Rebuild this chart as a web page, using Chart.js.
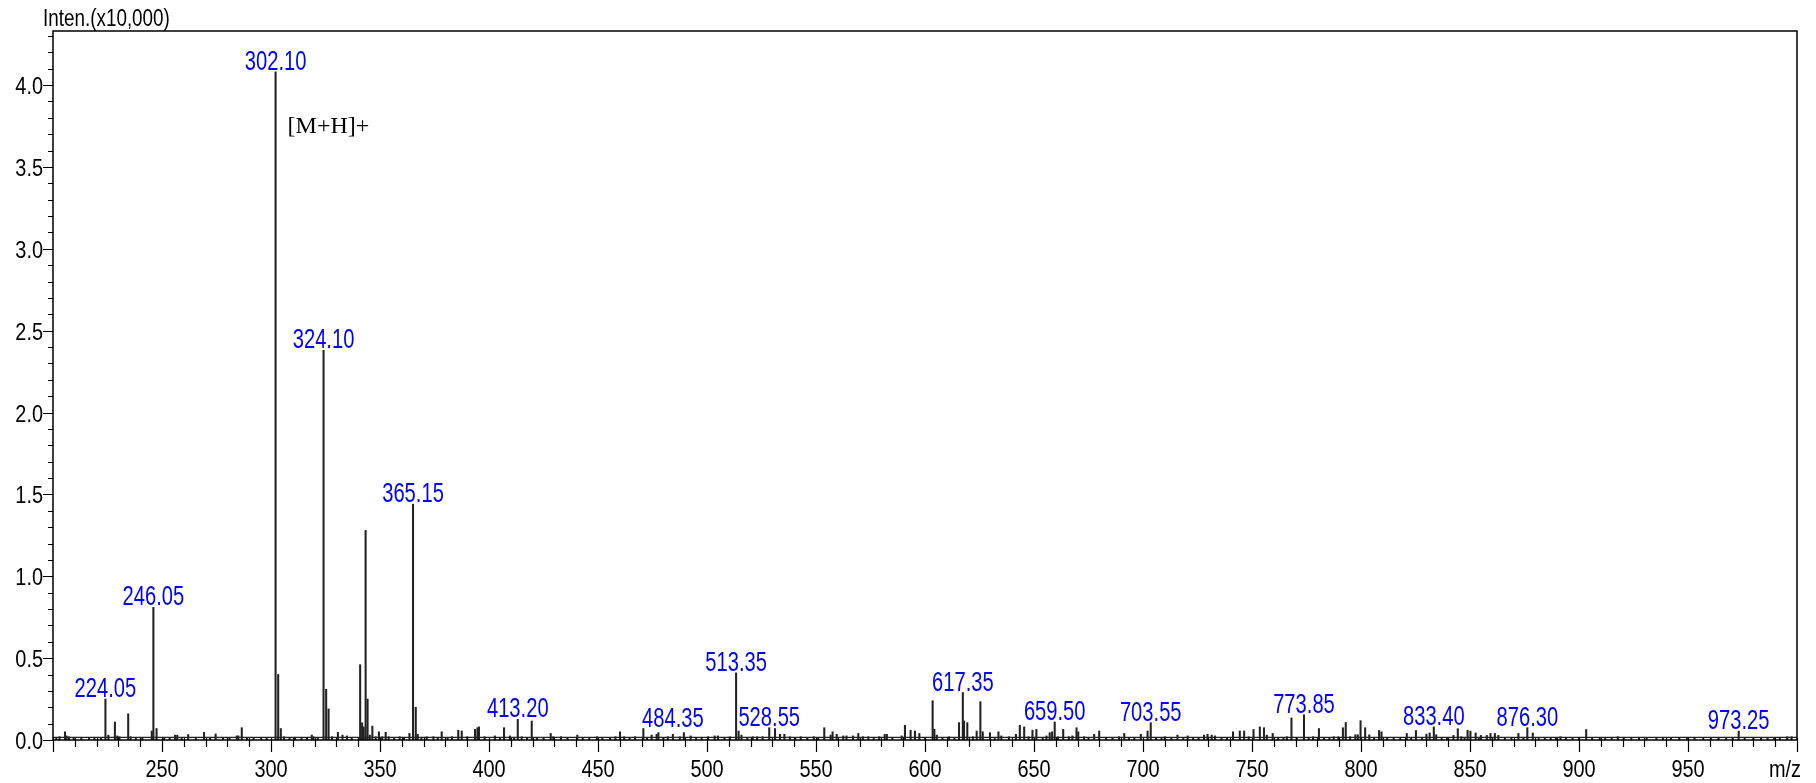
<!DOCTYPE html>
<html>
<head>
<meta charset="utf-8">
<title>Mass spectrum</title>
<script src="https://cdn.jsdelivr.net/npm/chart.js@4.4.1/dist/chart.umd.min.js"></script>
<style>
  html, body { margin: 0; padding: 0; background: #fff; }
  canvas { display: block; }
</style>
</head>
<body>
<canvas id="spec" width="1816" height="783"></canvas>
<script>
// ===== Spectrum data (m/z, intensity x10,000) =====
const peakMz = [
  201.5, 203.0, 205.5, 206.2, 207.3, 209.5, 213.0, 216.5, 219.0, 222.0,
  224.05, 225.4, 228.4, 229.5, 230.5, 234.5, 235.6, 238.0, 241.0, 245.3,
  246.05, 247.5, 251.0, 253.5, 256.0, 257.0, 259.0, 262.0, 265.5, 269.3,
  272.0, 274.6, 278.0, 281.0, 284.3, 285.0, 286.6, 289.0, 292.0, 295.5,
  298.0, 302.10, 303.3, 304.5, 306.0, 308.5, 311.0, 314.0, 316.5, 318.7,
  319.4, 321.5, 324.10, 325.3, 326.4, 328.0, 330.7, 332.8, 334.8, 337.0,
  340.9, 341.8, 342.5, 343.4, 344.3, 345.3, 346.5, 348.0, 349.5, 351.0,
  352.6, 354.0, 356.5, 359.0, 361.0, 363.5, 365.15, 366.4, 367.3, 369.0,
  371.4, 374.5, 376.5, 378.3, 381.0, 383.0, 385.9, 387.5, 390.0, 393.6,
  394.7, 395.4, 398.0, 402.7, 405.0, 406.9, 409.6, 411.5, 413.20, 415.0,
  417.5, 419.6, 422.0, 425.0, 428.3, 429.5, 433.0, 436.0, 440.5, 443.0,
  446.0, 449.5, 452.0, 455.5, 458.0, 460.1, 462.0, 464.5, 467.0, 470.8,
  472.5, 474.6, 476.9, 477.7, 480.0, 482.0, 484.35, 487.5, 489.4, 492.5,
  495.0, 497.5, 500.5, 503.5, 505.0, 508.0, 510.5, 513.35, 514.5, 515.8,
  518.5, 521.0, 523.0, 525.5, 528.55, 531.2, 533.5, 535.5, 538.0, 540.5,
  543.0, 546.0, 549.0, 551.0, 553.8, 556.7, 557.6, 559.5, 562.5, 564.0,
  567.0, 569.4, 571.5, 574.0, 576.5, 579.0, 581.5, 582.5, 585.0, 589.3,
  590.8, 593.4, 595.4, 597.4, 600.0, 603.5, 604.3, 605.4, 608.0, 611.0,
  613.5, 615.6, 617.35, 617.9, 619.4, 622.0, 623.7, 625.4, 626.5, 629.8,
  632.0, 633.7, 635.0, 638.5, 641.7, 643.5, 645.5, 647.5, 649.3, 651.1,
  654.0, 655.7, 657.2, 658.3, 659.50, 661.0, 663.4, 666.0, 667.6, 669.5,
  670.3, 673.0, 675.0, 677.6, 679.9, 683.0, 686.0, 689.0, 691.4, 693.5,
  696.0, 699.0, 702.1, 703.55, 706.0, 708.5, 710.0, 713.0, 715.8, 718.5,
  720.5, 723.0, 725.5, 728.0, 729.6, 731.5, 733.0, 736.0, 738.5, 741.3,
  744.4, 746.4, 748.5, 750.7, 753.6, 755.5, 756.8, 759.5, 762.0, 764.4,
  766.0, 768.1, 770.5, 773.85, 776.0, 778.0, 780.7, 783.0, 785.5, 787.5,
  789.6, 791.7, 793.0, 795.0, 797.4, 798.5, 799.8, 801.9, 803.8, 806.0,
  808.3, 809.4, 812.0, 815.0, 818.0, 821.0, 823.0, 825.2, 828.0, 830.0,
  831.5, 833.40, 834.5, 837.0, 839.5, 842.4, 844.4, 846.0, 847.5, 848.9,
  850.2, 852.6, 854.0, 855.0, 857.7, 859.4, 861.4, 863.0, 866.0, 869.0,
  872.2, 874.5, 876.30, 878.8, 881.5, 884.3, 887.0, 889.4, 891.5, 894.0,
  897.0, 900.0, 903.3, 906.0, 909.5, 912.0, 915.0, 917.8, 920.5, 924.0,
  927.5, 931.0, 935.5, 938.5, 942.2, 946.0, 949.5, 953.0, 957.0, 960.5,
  964.0, 967.5, 970.5, 973.25, 976.0, 980.0, 983.5, 986.5, 989.5, 992.1,
  995.5, 997.5
];
const peakInt = [
  0.015, 0.02, 0.05, 0.025, 0.02, 0.01, 0.012, 0.01, 0.012, 0.015,
  0.25, 0.03, 0.11, 0.025, 0.02, 0.16, 0.02, 0.012, 0.015, 0.055,
  0.81, 0.07, 0.012, 0.015, 0.03, 0.03, 0.012, 0.033, 0.015, 0.047,
  0.012, 0.037, 0.015, 0.012, 0.025, 0.025, 0.075, 0.015, 0.012, 0.015,
  0.012, 4.08, 0.40, 0.07, 0.02, 0.01, 0.015, 0.012, 0.015, 0.03,
  0.02, 0.015, 2.38, 0.31, 0.19, 0.02, 0.047, 0.03, 0.025, 0.015,
  0.46, 0.105, 0.08, 1.28, 0.25, 0.03, 0.085, 0.02, 0.05, 0.02,
  0.047, 0.02, 0.015, 0.02, 0.015, 0.04, 1.44, 0.20, 0.035, 0.015,
  0.02, 0.02, 0.015, 0.05, 0.015, 0.02, 0.06, 0.055, 0.02, 0.065,
  0.075, 0.08, 0.02, 0.025, 0.015, 0.075, 0.025, 0.015, 0.126, 0.02,
  0.015, 0.116, 0.015, 0.015, 0.04, 0.02, 0.02, 0.015, 0.03, 0.015,
  0.015, 0.02, 0.015, 0.015, 0.02, 0.05, 0.02, 0.015, 0.02, 0.07,
  0.015, 0.03, 0.035, 0.045, 0.015, 0.02, 0.035, 0.02, 0.045, 0.025,
  0.015, 0.015, 0.02, 0.025, 0.025, 0.015, 0.02, 0.41, 0.055, 0.03,
  0.015, 0.02, 0.02, 0.02, 0.075, 0.07, 0.035, 0.035, 0.02, 0.015,
  0.02, 0.015, 0.02, 0.015, 0.075, 0.03, 0.05, 0.035, 0.025, 0.025,
  0.025, 0.04, 0.02, 0.02, 0.015, 0.02, 0.035, 0.035, 0.015, 0.025,
  0.09, 0.06, 0.055, 0.04, 0.015, 0.24, 0.065, 0.03, 0.015, 0.02,
  0.015, 0.106, 0.29, 0.116, 0.106, 0.02, 0.055, 0.234, 0.05, 0.045,
  0.015, 0.05, 0.025, 0.02, 0.035, 0.09, 0.08, 0.02, 0.06, 0.065,
  0.015, 0.025, 0.045, 0.05, 0.11, 0.02, 0.065, 0.02, 0.025, 0.075,
  0.05, 0.02, 0.015, 0.035, 0.055, 0.015, 0.015, 0.02, 0.04, 0.015,
  0.015, 0.035, 0.055, 0.106, 0.015, 0.015, 0.02, 0.015, 0.03, 0.015,
  0.025, 0.015, 0.015, 0.03, 0.035, 0.03, 0.025, 0.015, 0.015, 0.05,
  0.055, 0.055, 0.02, 0.064, 0.08, 0.075, 0.03, 0.04, 0.015, 0.015,
  0.02, 0.135, 0.015, 0.154, 0.015, 0.02, 0.07, 0.015, 0.015, 0.02,
  0.02, 0.075, 0.107, 0.02, 0.032, 0.032, 0.118, 0.075, 0.032, 0.015,
  0.058, 0.05, 0.015, 0.015, 0.015, 0.04, 0.015, 0.058, 0.015, 0.036,
  0.043, 0.08, 0.032, 0.015, 0.015, 0.028, 0.069, 0.02, 0.015, 0.06,
  0.054, 0.043, 0.015, 0.028, 0.028, 0.04, 0.04, 0.028, 0.015, 0.015,
  0.04, 0.015, 0.075, 0.043, 0.015, 0.012, 0.012, 0.015, 0.02, 0.012,
  0.015, 0.012, 0.064, 0.012, 0.012, 0.015, 0.012, 0.02, 0.012, 0.012,
  0.015, 0.012, 0.015, 0.012, 0.012, 0.015, 0.012, 0.015, 0.012, 0.015,
  0.012, 0.015, 0.012, 0.054, 0.012, 0.015, 0.012, 0.012, 0.015, 0.015,
  0.02, 0.02
];

// peaks that carry a blue m/z label
const labelMz = [224.05, 246.05, 302.10, 324.10, 365.15, 413.20, 484.35, 513.35,
  528.55, 617.35, 659.50, 703.55, 773.85, 833.40, 876.30, 973.25];

const xTickLabels = [250, 300, 350, 400, 450, 500, 550, 600, 650, 700, 750, 800, 850, 900, 950];
const yTickLabels = [0.0, 0.5, 1.0, 1.5, 2.0, 2.5, 3.0, 3.5, 4.0];
const baseLevel = 0.016;

const X_MIN = 200, X_MAX = 1000, Y_MAX = 4.33;
const SANS = "'Liberation Sans', Arial, sans-serif";

// condensed text: the instrument font is a narrow Arial, so squeeze Liberation Sans
function narrowText(ctx, txt, x, y, size, squeeze, align) {
  ctx.save();
  ctx.translate(x, y);
  ctx.scale(squeeze, 1);
  ctx.font = `${size}px ${SANS}`;
  ctx.textAlign = align;
  ctx.textBaseline = 'alphabetic';
  ctx.fillText(txt, 0, 0);
  ctx.restore();
}
function narrowWidth(ctx, txt, size, squeeze) {
  ctx.save();
  ctx.font = `${size}px ${SANS}`;
  const w = ctx.measureText(txt).width * squeeze;
  ctx.restore();
  return w;
}

// Frame, ticks, labels and annotations
const specDecor = {
  id: 'specDecor',
  afterDraw(chart) {
    const ctx = chart.ctx;
    const a = chart.chartArea;
    const xs = chart.scales.x, ys = chart.scales.y;
    ctx.save();

    // frame
    ctx.strokeStyle = '#000';
    ctx.lineWidth = 1.5;
    ctx.strokeRect(a.left, a.top, a.right - a.left, a.bottom - a.top);

    // y ticks (minor 0.1, major 0.5)
    ctx.lineWidth = 1.2;
    ctx.beginPath();
    for (let i = 0; i <= Math.floor(Y_MAX * 10); i++) {
      const y = Math.round(ys.getPixelForValue(i / 10)) + 0.5;
      const len = i % 5 === 0 ? 10 : 5;
      ctx.moveTo(a.left - len, y);
      ctx.lineTo(a.left, y);
    }
    // x ticks (minor 10, major 50)
    for (let v = X_MIN; v <= X_MAX; v += 10) {
      const x = Math.round(xs.getPixelForValue(v)) + 0.5;
      const len = v % 50 === 0 ? 12 : 7;
      ctx.moveTo(x, a.bottom - 2);
      ctx.lineTo(x, a.bottom + len);
    }
    ctx.stroke();

    // tick labels from the scales
    ctx.fillStyle = '#000';
    xs.ticks.forEach(t => {
      narrowText(ctx, String(t.value), xs.getPixelForValue(t.value), a.bottom + 37, 24, 0.83, 'center');
    });
    ys.ticks.forEach(t => {
      narrowText(ctx, t.value.toFixed(1), a.left - 10, ys.getPixelForValue(t.value) + 9, 24, 0.83, 'right');
    });

    // axis titles
    narrowText(ctx, 'Inten.(x10,000)', 43, 26, 23, 0.82, 'left');
    narrowText(ctx, 'm/z', 1801, a.bottom + 37, 24, 0.83, 'right');

    // blue peak labels, lifted above any neighbour under the text
    ctx.fillStyle = '#0000ff';
    labelMz.forEach(mz => {
      const txt = mz.toFixed(2);
      const cx = xs.getPixelForValue(mz);
      const half = narrowWidth(ctx, txt, 28, 0.72) / 2;
      let top = Infinity;
      peakMz.forEach((m, i) => {
        const px = xs.getPixelForValue(m);
        if (Math.abs(px - cx) <= half) top = Math.min(top, ys.getPixelForValue(peakInt[i]));
      });
      narrowText(ctx, txt, cx, top - 2, 28, 0.72, 'center');
    });

    // molecular ion note
    ctx.fillStyle = '#000';
    ctx.font = "24px 'Liberation Serif', 'Times New Roman', serif";
    ctx.textAlign = 'left';
    ctx.textBaseline = 'alphabetic';
    ctx.fillText('[M+H]+', xs.getPixelForValue(302.10) + 12, ys.getPixelForValue(3.71));

    ctx.restore();
  }
};

const peaks = peakMz.map((m, i) => ({ x: m, y: peakInt[i] }));

new Chart(document.getElementById('spec').getContext('2d'), {
  type: 'bar',
  data: {
    datasets: [
      {
        data: peaks,
        backgroundColor: '#222',
        barThickness: 1.4,
        grouped: false,
        borderWidth: 0
      },
      {
        type: 'line',
        data: [{ x: X_MIN, y: baseLevel }, { x: X_MAX, y: baseLevel }],
        borderColor: '#222',
        borderWidth: 1.2,
        pointRadius: 0
      }
    ]
  },
  options: {
    responsive: false,
    devicePixelRatio: 1,
    animation: false,
    layout: { padding: { top: 31, right: 19, left: 0, bottom: 0 } },
    plugins: { legend: { display: false }, tooltip: { enabled: false } },
    scales: {
      x: {
        type: 'linear',
        min: X_MIN,
        max: X_MAX,
        offset: false,
        grid: { display: false, drawTicks: false, offset: false },
        border: { display: false },
        afterBuildTicks: s => { s.ticks = xTickLabels.map(v => ({ value: v })); },
        afterFit: s => { s.height = 43; },
        ticks: { display: false }
      },
      y: {
        min: 0,
        max: Y_MAX,
        grid: { display: false, drawTicks: false },
        border: { display: false },
        afterBuildTicks: s => { s.ticks = yTickLabels.map(v => ({ value: v })); },
        afterFit: s => { s.width = 53; },
        ticks: { display: false }
      }
    }
  },
  plugins: [specDecor]
});
</script>
</body>
</html>
